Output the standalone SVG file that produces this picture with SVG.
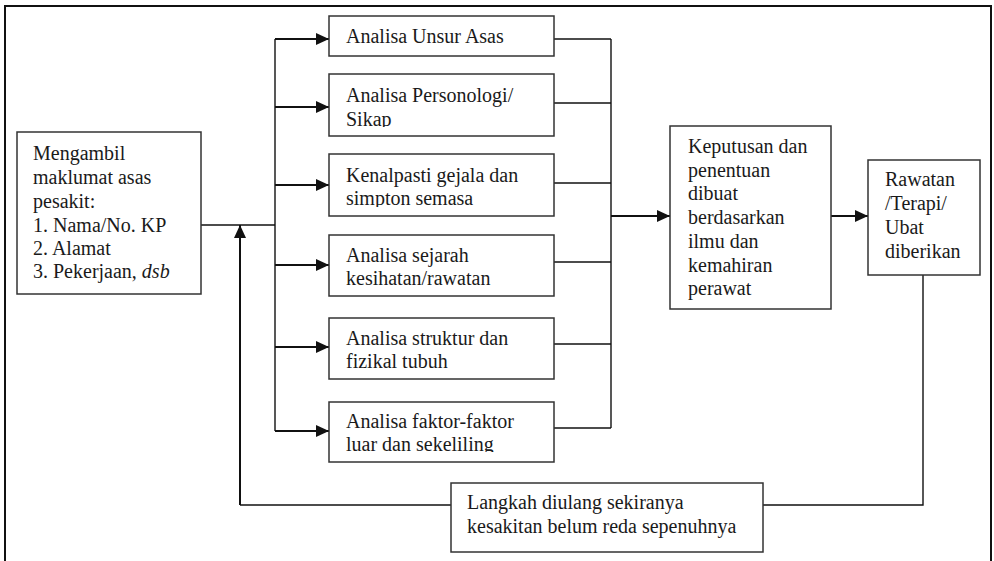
<svg xmlns="http://www.w3.org/2000/svg" width="994" height="561" viewBox="0 0 994 561">
<style>
.box{fill:#fff;stroke:#333;stroke-width:1.5}
.t{font-family:"Liberation Serif","Times New Roman",serif;font-size:20px;fill:#1a1a1a}
.c{fill:none;stroke:#111;stroke-width:1.4}
.a{fill:none;stroke:#111;stroke-width:2}
.frame{fill:none;stroke:#111;stroke-width:2}
</style>
<defs>
<marker id="ah" markerUnits="userSpaceOnUse" markerWidth="13" markerHeight="12" refX="13" refY="6" orient="auto">
<path d="M0,0 L13,6 L0,12 z" fill="#111"/>
</marker>
<clipPath id="cl2"><rect x="329" y="74" width="225" height="53"/></clipPath>
<clipPath id="cl3"><rect x="329" y="154" width="225" height="53"/></clipPath>
<clipPath id="cl6"><rect x="329" y="402" width="225" height="50"/></clipPath>
</defs>
<rect width="994" height="561" fill="#fff"/>
<path class="frame" d="M5,561 L5,6 L991,6 L991,561"/>

<g id="connectors">
<line class="c" x1="201" y1="225" x2="275" y2="225"/>
<line class="c" x1="275" y1="39" x2="275" y2="431"/>
<line class="a" x1="275" y1="39" x2="329" y2="39" marker-end="url(#ah)"/>
<line class="a" x1="275" y1="107" x2="329" y2="107" marker-end="url(#ah)"/>
<line class="a" x1="275" y1="185" x2="329" y2="185" marker-end="url(#ah)"/>
<line class="a" x1="275" y1="265" x2="329" y2="265" marker-end="url(#ah)"/>
<line class="a" x1="275" y1="347" x2="329" y2="347" marker-end="url(#ah)"/>
<line class="a" x1="275" y1="431" x2="329" y2="431" marker-end="url(#ah)"/>
<line class="c" x1="554" y1="39" x2="611" y2="39"/>
<line class="c" x1="554" y1="103" x2="611" y2="103"/>
<line class="c" x1="554" y1="183" x2="611" y2="183"/>
<line class="c" x1="554" y1="262" x2="611" y2="262"/>
<line class="c" x1="554" y1="344" x2="611" y2="344"/>
<line class="c" x1="554" y1="428" x2="611" y2="428"/>
<line class="c" x1="611" y1="39" x2="611" y2="428"/>
<line class="a" x1="611" y1="216" x2="670" y2="216" marker-end="url(#ah)"/>
<line class="a" x1="831" y1="216" x2="868" y2="216" marker-end="url(#ah)"/>
<polyline class="c" points="923,275 923,505 763,505"/>
<line class="c" x1="451" y1="505" x2="240" y2="505"/>
<line class="a" x1="240" y1="505" x2="240" y2="225" marker-end="url(#ah)"/>
</g>

<g id="node-input">
<rect class="box" x="17" y="132" width="184" height="162"/>
<text class="t" x="33" y="160">Mengambil</text>
<text class="t" x="33" y="184">maklumat asas</text>
<text class="t" x="33" y="208">pesakit:</text>
<text class="t" x="33" y="232">1. Nama/No. KP</text>
<text class="t" x="33" y="255">2. Alamat</text>
<text class="t" x="33" y="278">3. Pekerjaan, <tspan font-style="italic">dsb</tspan></text>
</g>

<g id="node-unsur">
<rect class="box" x="329" y="16" width="225" height="40"/>
<text class="t" x="346" y="43">Analisa Unsur Asas</text>
</g>

<g id="node-personologi">
<rect class="box" x="329" y="74" width="225" height="62"/>
<g clip-path="url(#cl2)">
<text class="t" x="346" y="102">Analisa Personologi/</text>
<text class="t" x="346" y="126">Sikap</text>
</g>
</g>

<g id="node-gejala">
<rect class="box" x="329" y="154" width="225" height="62"/>
<g clip-path="url(#cl3)">
<text class="t" x="346" y="182">Kenalpasti gejala dan</text>
<text class="t" x="346" y="205">simpton semasa</text>
</g>
</g>

<g id="node-sejarah">
<rect class="box" x="329" y="235" width="225" height="61"/>
<text class="t" x="346" y="262">Analisa sejarah</text>
<text class="t" x="346" y="285">kesihatan/rawatan</text>
</g>

<g id="node-struktur">
<rect class="box" x="329" y="318" width="225" height="61"/>
<text class="t" x="346" y="345">Analisa struktur dan</text>
<text class="t" x="346" y="368">fizikal tubuh</text>
</g>

<g id="node-faktor">
<rect class="box" x="329" y="402" width="225" height="60"/>
<g clip-path="url(#cl6)">
<text class="t" x="346" y="428">Analisa faktor-faktor</text>
<text class="t" x="346" y="451">luar dan sekeliling</text>
</g>
</g>

<g id="node-keputusan">
<rect class="box" x="670" y="126" width="161" height="183"/>
<text class="t" x="688" y="153">Keputusan dan</text>
<text class="t" x="688" y="177">penentuan</text>
<text class="t" x="688" y="200">dibuat</text>
<text class="t" x="688" y="224">berdasarkan</text>
<text class="t" x="688" y="248">ilmu dan</text>
<text class="t" x="688" y="272">kemahiran</text>
<text class="t" x="688" y="295">perawat</text>
</g>

<g id="node-rawatan">
<rect class="box" x="868" y="160" width="112" height="115"/>
<text class="t" x="885" y="186">Rawatan</text>
<text class="t" x="885" y="210">/Terapi/</text>
<text class="t" x="885" y="234">Ubat</text>
<text class="t" x="885" y="258">diberikan</text>
</g>

<g id="node-ulang">
<rect class="box" x="451" y="483" width="312" height="69"/>
<text class="t" x="467" y="509">Langkah diulang sekiranya</text>
<text class="t" x="467" y="533">kesakitan belum reda sepenuhnya</text>
</g>
</svg>
